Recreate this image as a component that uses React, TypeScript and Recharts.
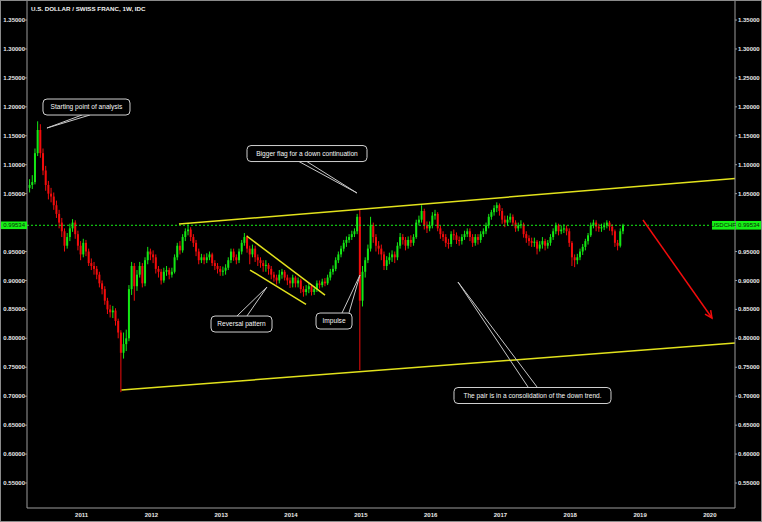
import React from 'react';
import { ComposedChart, Bar, XAxis, YAxis, ReferenceLine, ReferenceDot } from 'recharts';

// weekly USDCHF chart, drawn here with two-week candles: [high, low, close]
const FIRST_OPEN = 1.06;
const FIRST_CANDLE = 2010.26;
const CANDLE_STEP = 1 / 26;

const y2010 = [
  [1.075, 1.052, 1.065], [1.082, 1.058, 1.07], [1.128, 1.066, 1.12], [1.175, 1.115, 1.16], [1.17, 1.112, 1.12],
  [1.128, 1.082, 1.09], [1.098, 1.055, 1.065], [1.072, 1.04, 1.05], [1.06, 1.035, 1.045], [1.052, 1.022, 1.03],
  [1.038, 1.008, 1.015], [1.022, 0.99, 1.0], [1.008, 0.975, 0.985], [0.99, 0.95, 0.96], [0.982, 0.955, 0.975],
  [0.998, 0.968, 0.99], [1.006, 0.984, 1.0], [1.004, 0.972, 0.98], [0.986, 0.952, 0.96], [0.968, 0.935, 0.945],
];
const y2011 = [
  [0.972, 0.94, 0.965], [0.97, 0.942, 0.95], [0.955, 0.925, 0.93], [0.938, 0.918, 0.925], [0.932, 0.91, 0.92],
  [0.925, 0.902, 0.91], [0.915, 0.888, 0.895], [0.9, 0.876, 0.885], [0.89, 0.858, 0.865], [0.87, 0.842, 0.85],
  [0.858, 0.836, 0.845], [0.856, 0.835, 0.848], [0.852, 0.822, 0.83], [0.834, 0.8, 0.81], [0.814, 0.707, 0.775],
  [0.81, 0.765, 0.79], [0.815, 0.778, 0.8], [0.892, 0.795, 0.885], [0.932, 0.875, 0.925], [0.93, 0.865, 0.89],
  [0.918, 0.882, 0.91], [0.932, 0.905, 0.925], [0.93, 0.888, 0.895], [0.94, 0.89, 0.935], [0.958, 0.928, 0.95],
  [0.955, 0.935, 0.945],
];
const y2012 = [
  [0.952, 0.93, 0.94], [0.945, 0.912, 0.92], [0.925, 0.905, 0.915], [0.92, 0.893, 0.9], [0.922, 0.896, 0.915],
  [0.925, 0.908, 0.918], [0.922, 0.902, 0.91], [0.922, 0.905, 0.915], [0.945, 0.912, 0.94], [0.965, 0.935, 0.96],
  [0.968, 0.945, 0.952], [0.98, 0.948, 0.975], [0.99, 0.968, 0.985], [0.997, 0.978, 0.988], [0.992, 0.968, 0.975],
  [0.98, 0.958, 0.965], [0.97, 0.942, 0.95], [0.955, 0.928, 0.935], [0.946, 0.93, 0.94], [0.945, 0.928, 0.935],
  [0.947, 0.93, 0.94], [0.95, 0.935, 0.945], [0.948, 0.925, 0.93], [0.935, 0.918, 0.925], [0.93, 0.912, 0.92],
  [0.925, 0.908, 0.915],
];
const y2013 = [
  [0.924, 0.908, 0.917], [0.928, 0.91, 0.922], [0.94, 0.918, 0.935], [0.955, 0.93, 0.95], [0.955, 0.934, 0.94],
  [0.945, 0.928, 0.935], [0.955, 0.93, 0.95], [0.97, 0.945, 0.965], [0.982, 0.96, 0.975], [0.978, 0.948, 0.955],
  [0.96, 0.928, 0.945], [0.962, 0.94, 0.955], [0.96, 0.932, 0.94], [0.945, 0.925, 0.935], [0.94, 0.922, 0.93],
  [0.935, 0.915, 0.925], [0.935, 0.915, 0.927], [0.93, 0.91, 0.92], [0.925, 0.902, 0.91], [0.915, 0.898, 0.905],
  [0.91, 0.893, 0.9], [0.918, 0.895, 0.91], [0.92, 0.903, 0.915], [0.918, 0.9, 0.905], [0.91, 0.892, 0.9],
  [0.905, 0.887, 0.895],
];
const y2014 = [
  [0.91, 0.888, 0.905], [0.908, 0.888, 0.895], [0.905, 0.888, 0.9], [0.903, 0.878, 0.885], [0.89, 0.872, 0.88],
  [0.892, 0.874, 0.885], [0.895, 0.878, 0.89], [0.893, 0.874, 0.88], [0.89, 0.875, 0.885], [0.9, 0.88, 0.895],
  [0.9, 0.886, 0.892], [0.903, 0.888, 0.898], [0.904, 0.89, 0.895], [0.91, 0.892, 0.905], [0.92, 0.9, 0.915],
  [0.926, 0.91, 0.92], [0.94, 0.916, 0.935], [0.95, 0.93, 0.945], [0.96, 0.94, 0.955], [0.97, 0.95, 0.965],
  [0.976, 0.958, 0.97], [0.98, 0.965, 0.975], [0.986, 0.97, 0.98], [0.99, 0.975, 0.985], [1.015, 0.98, 1.01],
  [1.022, 0.745, 0.865],
];
const y2015 = [
  [0.925, 0.855, 0.915], [0.94, 0.905, 0.935], [0.962, 0.93, 0.955], [1.01, 0.95, 0.995], [1.0, 0.965, 0.975],
  [0.98, 0.95, 0.96], [0.968, 0.945, 0.955], [0.962, 0.935, 0.945], [0.95, 0.918, 0.925], [0.942, 0.918, 0.935],
  [0.948, 0.928, 0.94], [0.952, 0.932, 0.945], [0.95, 0.93, 0.94], [0.966, 0.935, 0.96], [0.982, 0.955, 0.975],
  [0.98, 0.962, 0.97], [0.975, 0.952, 0.96], [0.976, 0.955, 0.97], [0.978, 0.958, 0.965], [0.98, 0.96, 0.975],
  [1.005, 0.972, 1.0], [1.012, 0.995, 1.005], [1.03, 1.0, 1.02], [1.024, 0.988, 0.995], [1.002, 0.982, 0.99],
  [1.002, 0.985, 0.995],
];
const y2016 = [
  [1.018, 0.99, 1.012], [1.022, 1.005, 1.015], [1.018, 0.985, 0.99], [0.995, 0.972, 0.98], [0.985, 0.968, 0.975],
  [0.98, 0.958, 0.965], [0.972, 0.955, 0.963], [0.985, 0.958, 0.98], [0.988, 0.97, 0.978], [0.983, 0.963, 0.97],
  [0.976, 0.96, 0.968], [0.98, 0.962, 0.975], [0.986, 0.97, 0.98], [0.99, 0.975, 0.985], [0.99, 0.968, 0.975],
  [0.98, 0.958, 0.965], [0.98, 0.96, 0.975], [0.98, 0.962, 0.97], [0.985, 0.965, 0.98], [0.99, 0.975, 0.985],
  [1.0, 0.98, 0.995], [1.015, 0.99, 1.01], [1.022, 1.005, 1.018], [1.03, 1.012, 1.025], [1.035, 1.018, 1.03],
  [1.033, 1.012, 1.02],
];
const y2017 = [
  [1.025, 0.998, 1.005], [1.012, 0.992, 1.0], [1.012, 0.995, 1.005], [1.016, 1.0, 1.01], [1.014, 0.994, 1.0],
  [1.004, 0.984, 0.99], [1.0, 0.985, 0.995], [1.004, 0.99, 0.997], [1.0, 0.974, 0.98], [0.985, 0.965, 0.973],
  [0.978, 0.96, 0.968], [0.974, 0.958, 0.965], [0.974, 0.958, 0.967], [0.97, 0.945, 0.955], [0.968, 0.95, 0.962],
  [0.975, 0.955, 0.968], [0.972, 0.952, 0.96], [0.97, 0.955, 0.965], [0.98, 0.96, 0.975], [0.99, 0.97, 0.985],
  [1.0, 0.98, 0.995], [0.998, 0.978, 0.985], [0.995, 0.98, 0.988], [0.997, 0.982, 0.99], [0.995, 0.978, 0.985],
  [0.99, 0.958, 0.965],
];
const y2018 = [
  [0.968, 0.925, 0.94], [0.945, 0.923, 0.935], [0.946, 0.928, 0.94], [0.955, 0.935, 0.95], [0.963, 0.944, 0.958],
  [0.972, 0.952, 0.968], [0.982, 0.962, 0.978], [1.0, 0.975, 0.995], [1.005, 0.99, 1.0], [1.004, 0.985, 0.993],
  [0.998, 0.984, 0.99], [0.998, 0.984, 0.992], [1.0, 0.987, 0.995], [1.004, 0.99, 1.0], [1.003, 0.986, 0.993],
  [0.997, 0.978, 0.985], [0.988, 0.958, 0.965], [0.97, 0.952, 0.96], [0.99, 0.957, 0.985], [0.998, 0.98, 0.99534],
];

const LAST_PRICE = 0.99534;
const PRICE_TICKS = [0.55, 0.6, 0.65, 0.7, 0.75, 0.8, 0.85, 0.9, 0.95, 1.0, 1.05, 1.1, 1.15, 1.2, 1.25, 1.3, 1.35];
const YEAR_TICKS = [2011, 2012, 2013, 2014, 2015, 2016, 2017, 2018, 2019, 2020];
const X_DOMAIN = [2010.218, 2020.36];
const Y_DOMAIN = [0.5068, 1.3829];

// drawings on the chart, in data units (year, price)
const trendLines = [
  [[2012.395, 0.9975], [2020.36, 1.0761]],
  [[2011.572, 0.7107], [2020.36, 0.7919]],
  [[2013.365, 0.9768], [2014.487, 0.8748]],
  [[2013.413, 0.918], [2014.215, 0.8588]],
];

const callouts = [
  { text: 'Starting point of analysis', x: 2011.07, y: 1.1997, w: 87, base: [[2011.006, 1.1859], [2011.12, 1.1859]], tip: [2010.504, 1.1634] },
  { text: 'Bigger flag for a down continuation', x: 2014.229, y: 1.1193, w: 120, base: [[2014.1, 1.1064], [2014.215, 1.1064]], tip: [2014.945, 1.0511] },
  { text: 'Reversal pattern', x: 2013.291, y: 0.8247, w: 61, base: [[2013.226, 0.8386], [2013.369, 0.8386]], tip: [2013.656, 0.8887] },
  { text: 'Impulse', x: 2014.616, y: 0.8299, w: 36, base: [[2014.73, 0.8437], [2014.83, 0.8437]], tip: [2014.988, 0.9094] },
  { text: 'The pair is in a consolidation of the down trend.', x: 2017.459, y: 0.7012, w: 157, base: [[2017.395, 0.7159], [2017.524, 0.7159]], tip: [2016.392, 0.8973] },
];

const forecastArrow = [[2019.042, 1.0044], [2020.03, 0.8351]];

const UP = '#14e614';
const DOWN = '#f20c0c';
const YELLOW = '#e2e21c';
const GREEN = '#16f016';
const AXIS = '#9c9c9c';
const TEXT = '#e8e8e8';
const FONT = "'Liberation Sans', Arial, sans-serif";

const candles = (() => {
  const rows = [...y2010, ...y2011, ...y2012, ...y2013, ...y2014, ...y2015, ...y2016, ...y2017, ...y2018];
  let open = FIRST_OPEN;
  return rows.map(([high, low, close], i) => {
    const row = { t: FIRST_CANDLE + i * CANDLE_STEP, open, high, low, close, range: [low, high] };
    open = close;
    return row;
  });
})();

const Candle = (props: any) => {
  const { x, y, width, height, payload } = props;
  if (!payload) return null;
  const { open, close, high, low } = payload;
  const top = Math.min(y, y + height);
  const h = Math.abs(height);
  const ppu = h / (high - low);
  const cx = x + width / 2;
  const yOpen = top + (high - open) * ppu;
  const yClose = top + (high - close) * ppu;
  const color = close >= open ? UP : DOWN;
  return (
    <g>
      <line x1={cx} x2={cx} y1={top} y2={top + h} stroke={color} strokeWidth={1} />
      <rect x={cx - 1} y={Math.min(yOpen, yClose)} width={2} height={Math.max(1, Math.abs(yOpen - yClose))} fill={color} />
    </g>
  );
};

const fmt = (v: number) => v.toFixed(5);

const LeftTick = ({ x, y, payload }: any) => {
  if (payload.value === LAST_PRICE) {
    return (
      <g>
        <rect x={0} y={y - 3.8} width={x + 2} height={7.6} fill={GREEN} />
        <text x={x} y={y} dy="0.35em" textAnchor="end" fill="#0b2a0b" fontSize={6} fontFamily={FONT}>{fmt(payload.value)}</text>
      </g>
    );
  }
  return <text x={x} y={y} dy="0.35em" textAnchor="end" fill={TEXT} fontSize={6} fontWeight={700} fontFamily={FONT}>{fmt(payload.value)}</text>;
};

const RightTick = ({ x, y, payload }: any) => {
  if (payload.value === LAST_PRICE) {
    return (
      <g>
        <rect x={x - 26} y={y - 4.3} width={760 - (x - 26)} height={8.6} fill={GREEN} />
        <line x1={x - 2.5} x2={x - 2.5} y1={y - 4.3} y2={y + 4.3} stroke="#6a8a6a" strokeWidth={1} />
        <text x={x - 14.5} y={y} dy="0.35em" textAnchor="middle" fill="#0b2a0b" fontSize={6} fontFamily={FONT}>USDCHF</text>
        <text x={x} y={y} dy="0.35em" textAnchor="start" fill="#0b2a0b" fontSize={6} fontFamily={FONT}>{fmt(payload.value)}</text>
      </g>
    );
  }
  return <text x={x} y={y} dy="0.35em" textAnchor="start" fill={TEXT} fontSize={6} fontWeight={700} fontFamily={FONT}>{fmt(payload.value)}</text>;
};

const YearTick = ({ x, y, payload }: any) => (
  <text x={x} y={y} dy="0.7em" textAnchor="middle" fill={TEXT} fontSize={6} fontWeight={700} fontFamily={FONT}>{payload.value}</text>
);

const calloutShape = (c: any) => (p: any) => (
  <g>
    <rect x={p.cx - c.w / 2} y={p.cy - 8} width={c.w} height={16} rx={4} fill="#000" stroke="#cfcfcf" strokeWidth={1} />
    <text x={p.cx} y={p.cy} dy="0.35em" textAnchor="middle" fill="#f6f6f6" fontSize={6.6} fontFamily={FONT}>{c.text}</text>
  </g>
);

const ArrowShape = (p: any) => {
  const { x1, y1, x2, y2 } = p;
  const ang = Math.atan2(y2 - y1, x2 - x1);
  const len = 8;
  const a1 = ang + Math.PI - 0.45;
  const a2 = ang + Math.PI + 0.45;
  return (
    <g>
      <line x1={x1} y1={y1} x2={x2} y2={y2} stroke={DOWN} strokeWidth={1.5} />
      <polyline
        points={`${x2 + len * Math.cos(a1)},${y2 + len * Math.sin(a1)} ${x2},${y2} ${x2 + len * Math.cos(a2)},${y2 + len * Math.sin(a2)}`}
        fill="none" stroke={DOWN} strokeWidth={1.5}
      />
    </g>
  );
};

const App = () => {
  // the price label covers the 1.00000 tick, as on the original chart
  const yTicks = [...PRICE_TICKS.filter(v => Math.abs(v - LAST_PRICE) > 0.01), LAST_PRICE];
  return (
    <div style={{ position: 'absolute', left: 0, top: 0, width: 762, height: 522, boxSizing: 'border-box', border: '1px solid #8a8a8a', background: '#000' }}>
      <ComposedChart width={760} height={520} data={candles} margin={{ top: 0, right: 0, bottom: 0, left: 0 }}>
        <XAxis
          type="number" dataKey="t" domain={X_DOMAIN} ticks={YEAR_TICKS} allowDataOverflow
          height={13} stroke={AXIS} tickSize={0} tickMargin={5} tick={<YearTick />}
        />
        <YAxis
          yAxisId="left" orientation="left" type="number" domain={Y_DOMAIN} ticks={yTicks} allowDataOverflow
          width={26} stroke={AXIS} tickSize={2} tickMargin={0} tick={<LeftTick />} interval={0}
        />
        <YAxis
          yAxisId="right" orientation="right" type="number" domain={Y_DOMAIN} ticks={yTicks} allowDataOverflow
          width={26} stroke={AXIS} tickSize={2} tickMargin={1} tick={<RightTick />} interval={0}
        />
        <Bar yAxisId="left" dataKey="range" barSize={2} shape={<Candle />} isAnimationActive={false} />
        <ReferenceLine
          yAxisId="left" stroke={GREEN} strokeDasharray="2 2" strokeWidth={1}
          segment={[{ x: X_DOMAIN[0], y: LAST_PRICE }, { x: 2020.0, y: LAST_PRICE }]}
        />
        {trendLines.map((seg, i) => (
          <ReferenceLine
            key={`trend-${i}`} yAxisId="left" stroke={YELLOW} strokeWidth={1.5} ifOverflow="visible"
            segment={[{ x: seg[0][0], y: seg[0][1] }, { x: seg[1][0], y: seg[1][1] }]}
          />
        ))}
        {callouts.flatMap((c, i) =>
          c.base.map((b, j) => (
            <ReferenceLine
              key={`ptr-${i}-${j}`} yAxisId="left" stroke="#c8c8c8" strokeWidth={1} ifOverflow="visible"
              segment={[{ x: b[0], y: b[1] }, { x: c.tip[0], y: c.tip[1] }]}
            />
          ))
        )}
        {callouts.map((c, i) => (
          <ReferenceDot key={`box-${i}`} yAxisId="left" x={c.x} y={c.y} r={0} ifOverflow="visible" shape={calloutShape(c)} />
        ))}
        <ReferenceLine
          yAxisId="left" ifOverflow="visible" shape={ArrowShape}
          segment={[{ x: forecastArrow[0][0], y: forecastArrow[0][1] }, { x: forecastArrow[1][0], y: forecastArrow[1][1] }]}
        />
      </ComposedChart>
      <div style={{ position: 'absolute', left: 30, top: 4, color: '#f0f0f0', fontSize: 6.2, fontWeight: 700, fontFamily: FONT, whiteSpace: 'nowrap', lineHeight: '8px' }}>
        U.S. DOLLAR / SWISS FRANC, 1W, IDC
      </div>
    </div>
  );
};

export default App;
